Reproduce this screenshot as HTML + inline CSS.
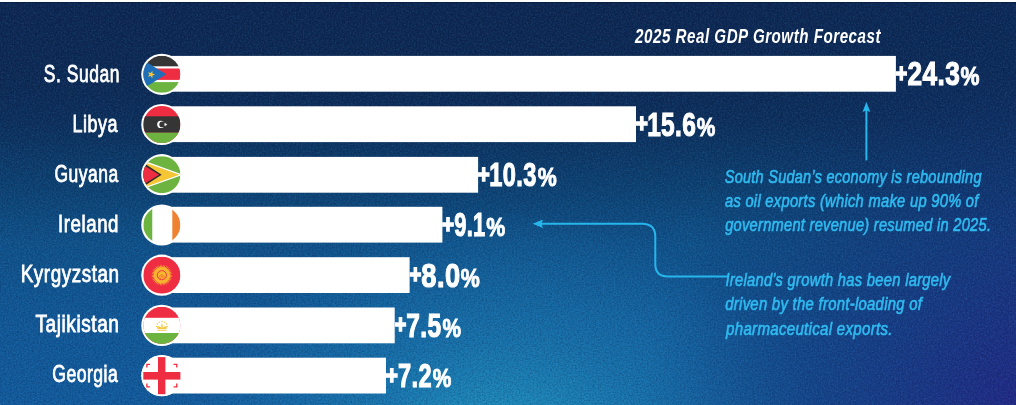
<!DOCTYPE html>
<html lang="en">
<head>
<meta charset="utf-8">
<title>2025 Real GDP Growth Forecast</title>
<style>
html,body{margin:0;padding:0;background:#0f2b52;}
body{width:1016px;height:405px;overflow:hidden;position:relative;}
svg{display:block;position:absolute;left:0;top:0;}
text{font-family:"Liberation Sans",sans-serif;}
.lbl{font-size:23.7px;fill:#fff;font-weight:400;stroke:#fff;stroke-width:0.8px;letter-spacing:0.7px;}
.val{font-size:33.2px;fill:#fff;font-weight:700;stroke:#fff;stroke-width:1.1px;letter-spacing:0.5px;}
.pls{font-size:25px;fill:#fff;font-weight:700;stroke:#fff;stroke-width:1.7px;}
.pct{font-size:25.6px;fill:#fff;font-weight:700;stroke:#fff;stroke-width:0.9px;}
.ttl{font-size:20.8px;fill:#fff;font-style:italic;font-weight:700;letter-spacing:0.7px;}
.ann{font-size:18.8px;fill:#2fbaf0;font-style:italic;font-weight:400;stroke:#2fbaf0;stroke-width:0.65px;letter-spacing:0.35px;}
</style>
</head>
<body>
<svg width="1016" height="405" viewBox="0 0 1016 405">
<defs>
<linearGradient id="bg" x1="0" y1="0" x2="0" y2="1">
<stop offset="0" stop-color="#0d2650"/>
<stop offset="0.2" stop-color="#0d2953"/>
<stop offset="0.3" stop-color="#0d2e5a"/>
<stop offset="0.45" stop-color="#0d4070"/>
<stop offset="0.6" stop-color="#10528a"/>
<stop offset="0.8" stop-color="#125998"/>
<stop offset="1" stop-color="#135c9e"/>
</linearGradient>
<radialGradient id="glow" cx="500" cy="460" r="250" gradientUnits="userSpaceOnUse" gradientTransform="translate(500 460) scale(1.3 1) translate(-500 -460)">
<stop offset="0" stop-color="#27a8cc" stop-opacity="0.9"/>
<stop offset="0.5" stop-color="#2196c4" stop-opacity="0.4"/>
<stop offset="1" stop-color="#1f8cc8" stop-opacity="0"/>
</radialGradient>
<radialGradient id="purp" cx="1060" cy="440" r="420" gradientUnits="userSpaceOnUse">
<stop offset="0" stop-color="#2a1c86" stop-opacity="0.95"/>
<stop offset="0.5" stop-color="#1c2a7c" stop-opacity="0.5"/>
<stop offset="1" stop-color="#10306a" stop-opacity="0"/>
</radialGradient>
<linearGradient id="rdk" x1="0" y1="0" x2="1" y2="0">
<stop offset="0.68" stop-color="#0c2c5e" stop-opacity="0"/>
<stop offset="1" stop-color="#0c2c5e" stop-opacity="0.3"/>
</linearGradient>
<filter id="nW" x="0" y="0" width="100%" height="100%" color-interpolation-filters="sRGB">
<feTurbulence type="fractalNoise" baseFrequency="0.62 0.57" numOctaves="3" seed="3"/>
<feColorMatrix type="matrix" values="0 0 0 0 0.3  0 0 0 0 0.68  0 0 0 0 0.9  2.6 0 0 0 -1.0"/>
</filter>
<filter id="nB" x="0" y="0" width="100%" height="100%" color-interpolation-filters="sRGB">
<feTurbulence type="fractalNoise" baseFrequency="0.57 0.63" numOctaves="3" seed="11"/>
<feColorMatrix type="matrix" values="0 0 0 0 0.02  0 0 0 0 0.05  0 0 0 0 0.2  0 2.6 0 0 -1.0"/>
</filter>
</defs>
<rect x="0" y="0" width="1016" height="405" fill="url(#bg)"/>
<rect x="0" y="0" width="1016" height="405" fill="url(#glow)"/>
<rect x="0" y="0" width="1016" height="405" fill="url(#rdk)"/>
<rect x="0" y="0" width="1016" height="405" fill="url(#purp)"/>
<rect x="0" y="0" width="1016" height="405" filter="url(#nW)" opacity="0.13"/>
<rect x="0" y="0" width="1016" height="405" filter="url(#nB)" opacity="0.2"/>
<rect x="0" y="0" width="1016" height="2" fill="#fff"/>
<rect x="0" y="2" width="1016" height="1" fill="#07193a" opacity="0.7"/>
<rect x="161.3" y="55.9" width="734.6" height="35.8" fill="#fff"/>
<rect x="161.3" y="106.3" width="474.7" height="35.8" fill="#fff"/>
<rect x="161.3" y="156.9" width="316.8" height="35.8" fill="#fff"/>
<rect x="161.3" y="206.8" width="281.1" height="35.8" fill="#fff"/>
<rect x="161.3" y="257.2" width="248.3" height="35.8" fill="#fff"/>
<rect x="161.3" y="307.5" width="233.4" height="35.8" fill="#fff"/>
<rect x="161.3" y="357.7" width="224.7" height="35.8" fill="#fff"/>
<clipPath id="fc0"><circle cx="161.85" cy="74.3" r="18.55"/></clipPath>
<circle cx="161.85" cy="74.3" r="20.6" fill="#fff"/>
<g clip-path="url(#fc0)">
<rect x="143.3" y="55.8" width="37.1" height="37.1" fill="#fff"/>
<rect x="143.3" y="55.8" width="37.1" height="10.5" fill="#353535"/>
<rect x="143.3" y="68.5" width="37.1" height="11.4" fill="#ef2d42"/>
<rect x="143.3" y="82.1" width="37.1" height="10.7" fill="#6db33f"/>
<polygon points="142.3,59.5 166.3,74.3 142.3,89.1" fill="#1e6fb8"/>
<polygon points="152.39,70.70 152.44,73.56 155.15,74.50 152.44,75.44 152.39,78.30 150.66,76.02 147.91,76.85 149.55,74.50 147.91,72.15 150.66,72.98" fill="#f4c534"/>
</g>
<clipPath id="fc1"><circle cx="161.85" cy="124.5" r="18.55"/></clipPath>
<circle cx="161.85" cy="124.5" r="20.6" fill="#fff"/>
<g clip-path="url(#fc1)">
<rect x="143.3" y="106.0" width="37.1" height="37.1" fill="#ef2d42"/>
<rect x="143.3" y="116.3" width="37.1" height="16.4" fill="#353535"/>
<rect x="143.3" y="132.7" width="37.1" height="10.3" fill="#6db33f"/>
<circle cx="160.8" cy="124.4" r="3.6" fill="#fff"/><circle cx="162.2" cy="124.4" r="2.9" fill="#353535"/>
<polygon points="166.10,122.52 166.13,124.03 167.55,124.52 166.13,125.01 166.10,126.52 165.19,125.32 163.75,125.75 164.61,124.52 163.75,123.29 165.19,123.72" fill="#fff"/>
</g>
<clipPath id="fc2"><circle cx="161.85" cy="174.7" r="18.55"/></clipPath>
<circle cx="161.85" cy="174.7" r="20.6" fill="#fff"/>
<g clip-path="url(#fc2)">
<rect x="143.3" y="156.2" width="37.1" height="37.1" fill="#6db33f"/>
<polygon points="142.3,160.1 182.9,174.7 142.3,189.3" fill="#fff"/>
<polygon points="142.3,161.5 179.4,174.7 142.3,187.9" fill="#f4c534"/>
<polygon points="142.3,162.1 161.7,174.7 142.3,187.3" fill="#2b2b2b"/>
<polygon points="142.3,164.3 159.2,174.7 142.3,185.3" fill="#ef2d42"/>
</g>
<clipPath id="fc3"><circle cx="161.85" cy="225.0" r="18.55"/></clipPath>
<circle cx="161.85" cy="225.0" r="20.6" fill="#fff"/>
<g clip-path="url(#fc3)">
<rect x="143.3" y="206.4" width="9.2" height="37.1" fill="#6db33f"/>
<rect x="152.5" y="206.4" width="19.8" height="37.1" fill="#fff"/>
<rect x="172.3" y="206.4" width="8.1" height="37.1" fill="#ee8232"/>
</g>
<clipPath id="fc4"><circle cx="161.85" cy="275.2" r="18.55"/></clipPath>
<circle cx="161.85" cy="275.2" r="20.6" fill="#fff"/>
<g clip-path="url(#fc4)">
<rect x="143.3" y="256.6" width="37.1" height="37.1" fill="#ef2d42"/>
<polygon points="172.75,275.18 169.43,275.78 172.62,276.89 169.24,276.95 172.22,278.55 168.87,278.09 171.56,280.13 168.33,279.15 170.67,281.59 167.63,280.12 169.56,282.89 166.79,280.96 168.26,284.00 165.82,281.66 166.80,284.89 164.76,282.20 165.22,285.55 163.62,282.57 163.56,285.95 162.45,282.76 161.85,286.08 161.25,282.76 160.14,285.95 160.08,282.57 158.48,285.55 158.94,282.20 156.90,284.89 157.88,281.66 155.44,284.00 156.91,280.96 154.14,282.89 156.07,280.12 153.03,281.59 155.37,279.15 152.14,280.13 154.83,278.09 151.48,278.55 154.46,276.95 151.08,276.89 154.27,275.78 150.95,275.18 154.27,274.58 151.08,273.47 154.46,273.41 151.48,271.81 154.83,272.27 152.14,270.23 155.37,271.21 153.03,268.77 156.07,270.24 154.14,267.47 156.91,269.40 155.44,266.36 157.88,268.70 156.90,265.47 158.94,268.16 158.48,264.81 160.08,267.79 160.14,264.41 161.25,267.60 161.85,264.28 162.45,267.60 163.56,264.41 163.62,267.79 165.22,264.81 164.76,268.16 166.80,265.47 165.82,268.70 168.26,266.36 166.79,269.40 169.56,267.47 167.63,270.24 170.67,268.77 168.33,271.21 171.56,270.23 168.87,272.27 172.22,271.81 169.24,273.41 172.62,273.47 169.43,274.58" fill="#f7b630"/>
<circle cx="161.85" cy="275.2" r="7.0" fill="#f7b630"/>
<circle cx="161.85" cy="275.2" r="4.6" fill="none" stroke="#ef2d42" stroke-width="0.9"/>
<path d="M158.7 277.8 Q161.8 271.7 165.0 277.8 M160.2 279.0 Q161.8 273.2 163.4 279.0" fill="none" stroke="#ef2d42" stroke-width="0.6" opacity="0.7"/>
</g>
<clipPath id="fc5"><circle cx="161.85" cy="325.4" r="18.55"/></clipPath>
<circle cx="161.85" cy="325.4" r="20.6" fill="#fff"/>
<g clip-path="url(#fc5)">
<rect x="143.3" y="306.8" width="37.1" height="37.1" fill="#ef2d42"/>
<rect x="143.3" y="317.8" width="37.1" height="15.2" fill="#fff"/>
<rect x="143.3" y="333.0" width="37.1" height="11.0" fill="#6db33f"/>
<g transform="translate(161.9 325.7) scale(0.86) translate(-161.9 -325.7)" opacity="0.92">
<path d="M156.5 330.3 h10.8 v1.3 h-10.8 z M156.8 329.5 q-1.6 -3.4 1.2 -3.2 q2.4 0.2 3.2 2 q-0.6 -3.6 0.8 -5.4 q1.4 1.8 0.8 5.4 q0.8 -1.8 3.2 -2 q2.8 -0.2 1.2 3.2 z" fill="#f4c534"/>
<circle cx="155.75" cy="326.50" r="0.85" fill="#f4c534"/>
<circle cx="156.58" cy="323.65" r="0.85" fill="#f4c534"/>
<circle cx="158.85" cy="321.56" r="0.85" fill="#f4c534"/>
<circle cx="161.95" cy="320.80" r="0.85" fill="#f4c534"/>
<circle cx="165.05" cy="321.56" r="0.85" fill="#f4c534"/>
<circle cx="167.32" cy="323.65" r="0.85" fill="#f4c534"/>
<circle cx="168.15" cy="326.50" r="0.85" fill="#f4c534"/>
</g>
</g>
<clipPath id="fc6"><circle cx="161.85" cy="375.6" r="20.6"/></clipPath>
<circle cx="161.85" cy="375.6" r="20.6" fill="#fff"/>
<g clip-path="url(#fc6)">
<circle cx="161.85" cy="375.6" r="20.6" fill="#fff"/>
<rect x="158.0" y="357.1" width="7.4" height="37.1" fill="#ef2d42"/>
<rect x="143.3" y="372.0" width="37.1" height="7.6" fill="#ef2d42"/>
<path d="M150.1 364.4 H146.9 V367.6" stroke="#ef2d42" stroke-width="1.35" fill="none"/>
<path d="M150.1 386.8 H146.9 V383.6" stroke="#ef2d42" stroke-width="1.35" fill="none"/>
<path d="M173.6 364.4 H176.8 V367.6" stroke="#ef2d42" stroke-width="1.35" fill="none"/>
<path d="M173.6 386.8 H176.8 V383.6" stroke="#ef2d42" stroke-width="1.35" fill="none"/>
</g>
<path d="M866.4 160.3 V110" stroke="#27b6ec" stroke-width="2" fill="none"/>
<path d="M866.4 102 L870.3 112 L866.4 110.6 L862.5 112 Z" fill="#27b6ec"/>
<path d="M729 276.5 H668 Q655.3 276.5 655.3 264 V237 Q655.3 223.7 642 223.7 H541" stroke="#27b6ec" stroke-width="2" fill="none"/>
<path d="M532.6 223.7 L543 219.4 L541.4 223.7 L543 228 Z" fill="#27b6ec"/>
<text id="l0" class="lbl" x="43.83" y="82.1" textLength="76.11" lengthAdjust="spacingAndGlyphs">S. Sudan</text>
<text id="l1" class="lbl" x="72.42" y="132.1" textLength="45.62" lengthAdjust="spacingAndGlyphs">Libya</text>
<text id="l2" class="lbl" x="54.44" y="182.1" textLength="64.17" lengthAdjust="spacingAndGlyphs">Guyana</text>
<text id="l3" class="lbl" x="58.12" y="232.1" textLength="60.85" lengthAdjust="spacingAndGlyphs">Ireland</text>
<text id="l4" class="lbl" x="20.74" y="282.1" textLength="98.84" lengthAdjust="spacingAndGlyphs">Kyrgyzstan</text>
<text id="l5" class="lbl" x="35.41" y="332.1" textLength="84.10" lengthAdjust="spacingAndGlyphs">Tajikistan</text>
<text id="l6" class="lbl" x="52.20" y="382.1" textLength="66.15" lengthAdjust="spacingAndGlyphs">Georgia</text>
<text id="p0" class="pls" x="895.48" y="81.8" textLength="11.64" lengthAdjust="spacingAndGlyphs">+</text>
<text id="v0" class="val" x="907.59" y="85.4" textLength="52.68" lengthAdjust="spacingAndGlyphs">24.3</text>
<text id="c0" class="pct" x="960.41" y="85.4" textLength="18.99" lengthAdjust="spacingAndGlyphs">%</text>
<text id="p1" class="pls" x="635.64" y="132.2" textLength="12.07" lengthAdjust="spacingAndGlyphs">+</text>
<text id="v1" class="val" x="647.13" y="135.8" textLength="49.10" lengthAdjust="spacingAndGlyphs">15.6</text>
<text id="c1" class="pct" x="696.66" y="135.8" textLength="18.59" lengthAdjust="spacingAndGlyphs">%</text>
<text id="p2" class="pls" x="477.76" y="182.8" textLength="11.90" lengthAdjust="spacingAndGlyphs">+</text>
<text id="v2" class="val" x="489.35" y="186.4" textLength="47.39" lengthAdjust="spacingAndGlyphs">10.3</text>
<text id="c2" class="pct" x="537.69" y="186.4" textLength="18.98" lengthAdjust="spacingAndGlyphs">%</text>
<text id="p3" class="pls" x="442.08" y="232.7" textLength="11.98" lengthAdjust="spacingAndGlyphs">+</text>
<text id="v3" class="val" x="454.18" y="236.3" textLength="31.35" lengthAdjust="spacingAndGlyphs">9.1</text>
<text id="c3" class="pct" x="486.34" y="236.3" textLength="18.96" lengthAdjust="spacingAndGlyphs">%</text>
<text id="p4" class="pls" x="409.51" y="283.1" textLength="11.74" lengthAdjust="spacingAndGlyphs">+</text>
<text id="v4" class="val" x="421.32" y="286.7" textLength="39.21" lengthAdjust="spacingAndGlyphs">8.0</text>
<text id="c4" class="pct" x="460.82" y="286.7" textLength="19.02" lengthAdjust="spacingAndGlyphs">%</text>
<text id="p5" class="pls" x="394.64" y="333.4" textLength="11.50" lengthAdjust="spacingAndGlyphs">+</text>
<text id="v5" class="val" x="406.34" y="337.0" textLength="35.17" lengthAdjust="spacingAndGlyphs">7.5</text>
<text id="c5" class="pct" x="442.47" y="337.0" textLength="18.53" lengthAdjust="spacingAndGlyphs">%</text>
<text id="p6" class="pls" x="385.64" y="383.6" textLength="12.07" lengthAdjust="spacingAndGlyphs">+</text>
<text id="v6" class="val" x="398.06" y="387.2" textLength="33.85" lengthAdjust="spacingAndGlyphs">7.2</text>
<text id="c6" class="pct" x="432.66" y="387.2" textLength="18.59" lengthAdjust="spacingAndGlyphs">%</text>
<text id="ttl" class="ttl" x="635.11" y="42.6" textLength="245.86" lengthAdjust="spacingAndGlyphs">2025 Real GDP Growth Forecast</text>
<text id="a0" class="ann" x="724.77" y="182.6" textLength="256.94" lengthAdjust="spacingAndGlyphs">South Sudan’s economy is rebounding</text>
<text id="a1" class="ann" x="724.94" y="207.4" textLength="253.76" lengthAdjust="spacingAndGlyphs">as oil exports (which make up 90% of</text>
<text id="a2" class="ann" x="725.17" y="231.3" textLength="266.06" lengthAdjust="spacingAndGlyphs">government revenue) resumed in 2025.</text>
<text id="a3" class="ann" x="725.42" y="286.1" textLength="225.11" lengthAdjust="spacingAndGlyphs">Ireland's growth has been largely</text>
<text id="a4" class="ann" x="725.26" y="310.3" textLength="196.99" lengthAdjust="spacingAndGlyphs">driven by the front-loading of</text>
<text id="a5" class="ann" x="726.07" y="334.5" textLength="166.68" lengthAdjust="spacingAndGlyphs">pharmaceutical exports.</text>
</svg>
</body>
</html>
